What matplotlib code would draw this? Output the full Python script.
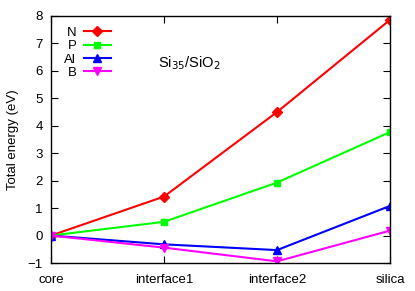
import matplotlib.pyplot as plt

plt.rcParams['font.family'] = ['Liberation Sans', 'DejaVu Sans']

sites = ['core', 'interface1', 'interface2', 'silica']
e_N = [0.0, 1.42, 4.5, 7.86]
e_P = [0.0, 0.5, 1.93, 3.77]
e_Al = [0.0, -0.32, -0.53, 1.08]
e_B = [0.0, -0.44, -0.94, 0.18]

fig = plt.figure(figsize=(4.15, 2.91), dpi=100)
ax = fig.add_axes([51/415, 1 - 263/291, 339/415, 247/291])

x = list(range(len(sites)))
ax.plot(x, e_N, color='#ff0000', marker='D', ms=5, lw=1.5, label='N')
ax.plot(x, e_P, color='#00ff00', marker='s', ms=5, lw=1.5, label='P')
ax.plot(x, e_Al, color='#0000ff', marker='^', ms=6, lw=1.5, label='Al')
ax.plot(x, e_B, color='#ff00ff', marker='v', ms=6, lw=1.5, label='B')

ax.set_xlim(0, 3)
ax.set_ylim(-1, 8)
ax.set_xticks(x)
ax.set_xticklabels(sites)
ax.set_yticks(range(-1, 9))
ax.set_ylabel('Total energy (eV)', fontsize=9.5, labelpad=6)
ax.tick_params(direction='in', top=True, right=True, labelsize=9.5, length=5)
ax.tick_params(axis='x', pad=8)
ax.tick_params(axis='y', pad=6)
for s in ax.spines.values():
    s.set_linewidth(1.0)

leg = ax.legend(loc='upper left', markerfirst=False, frameon=False, fontsize=9.5,
                handlelength=2.0, handletextpad=0.6, labelspacing=0.08,
                borderaxespad=0.0, bbox_to_anchor=(0.024, 0.978))
for t in leg.get_texts():
    t.set_ha('right')

ax.text(0.316, 0.794, 'Si$_{35}$/SiO$_2$', transform=ax.transAxes, fontsize=10.5)

fig.savefig('out.png', dpi=100)
